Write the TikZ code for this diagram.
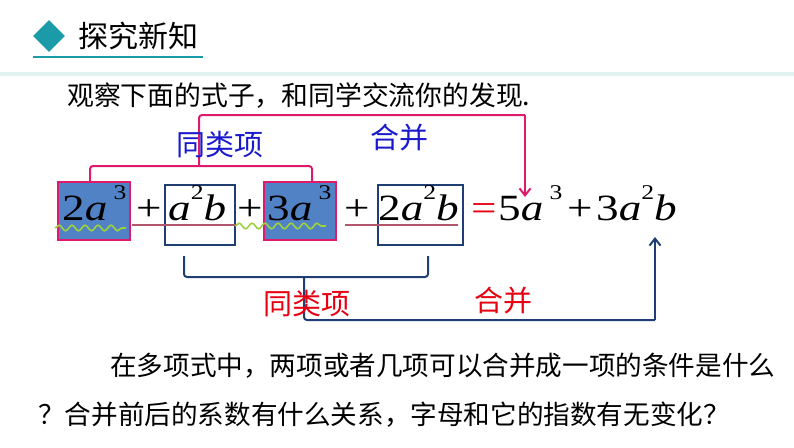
\documentclass[tikz,border=0pt]{standalone}
\usepackage{fontspec}
\setmainfont{Liberation Serif}
\newfontfamily\cjk{Noto Sans CJK SC}
\newfontfamily\eqf[FakeStretch=1.22]{Liberation Serif}
\usetikzlibrary{shapes.geometric,arrows.meta,decorations.pathmorphing}
\definecolor{teal1}{HTML}{1A9BA7}
\definecolor{band}{HTML}{E2F3EF}
\definecolor{pinkc}{HTML}{DE1A6C}
\definecolor{navy}{HTML}{1F3F74}
\definecolor{boxfill}{HTML}{5282C6}
\definecolor{bluet}{HTML}{1A1ACC}
\definecolor{redt}{HTML}{E60012}
\definecolor{ulc}{HTML}{B2566B}
\definecolor{wavec}{HTML}{9CD23C}
\newcommand\supr[1]{\raisebox{21pt}{\fontsize{21}{21}\selectfont #1}}
\newcommand\ita[1]{\textit{#1}}
\tikzset{
  eq/.style={inner sep=0pt, anchor=base west, font=\eqf\fontsize{37}{37}\selectfont},
  termbox/.style={draw, line width=2pt, rectangle, inner sep=0pt},
  pinkbox/.style={termbox, draw=pinkc, fill=boxfill, minimum width=72pt, minimum height=58pt},
  navybox/.style={termbox, draw=navy, minimum height=60pt},
  lbl/.style={inner sep=0pt, font=\cjk\fontsize{29}{29}\selectfont},
  body/.style={inner sep=0pt, anchor=west, font=\cjk\fontsize{26.6}{26.6}\selectfont},
  pinkline/.style={draw=pinkc, line width=2pt, rounded corners=3pt},
  navyline/.style={draw=navy, line width=2pt, rounded corners=3pt},
  ul/.style={draw=ulc, line width=1.5pt},
  wave/.style={draw=wavec, line width=1.6pt, decorate, decoration={snake, segment length=13pt, amplitude=2.8pt}},
}
\begin{document}
\begin{tikzpicture}[x=1pt,y=-1pt]
\useasboundingbox (0,0) rectangle (794,447);
% header
\fill[band] (0,72) rectangle (794,76);
\node[diamond, fill=teal1, minimum width=32pt, minimum height=32pt, inner sep=0pt] (dia) at (49,36) {};
\node[inner sep=0pt, anchor=west, font=\cjk\fontsize{30}{30}\selectfont] (title) at (78,36) {探究新知};
\coordinate (hl) at (33,57);
\coordinate (hr) at (203,57);
\draw[teal1, line width=2.5pt] (hl) -- (hr);
% first line of text
\node[body, font=\cjk\fontsize{26.8}{26.8}\selectfont] (intro) at (67,96) {观察下面的式子，和同学交流你的发现.};
% boxes
\node[pinkbox] (b1) at (94,211) {};
\node[navybox, minimum width=70pt] (b2) at (200,215) {};
\node[pinkbox] (b3) at (300,211) {};
\node[navybox, minimum width=85pt] (b4) at (420.5,215) {};
% equation
\node[eq] (t1) at (62,220) {2\ita{a}\,\supr{3}};
\node[eq] (p1) at (136,220) {+};
\node[eq] (t2) at (168,220) {\ita{a}\supr{2}\ita{b}};
\node[eq] (p2) at (237,220) {+};
\node[eq] (t3) at (267,220) {3\ita{a}\,\supr{3}};
\node[eq] (p3) at (344,220) {+};
\node[eq] (t4) at (378,220) {2\ita{a}\supr{2}\ita{b}};
\node[eq, text=redt] (eqs) at (471,220) {=};
\node[eq] (r1) at (498,220) {5\ita{a}\,\supr{3}};
\node[eq] (p4) at (567,220) {+};
\node[eq] (r2) at (596,220) {3\ita{a}\supr{2}\ita{b}};
% underlines and waves
\coordinate (u1a) at (132,225); \coordinate (u1b) at (235,225);
\coordinate (u2a) at (345,225); \coordinate (u2b) at (458,225);
\draw[ul] (u1a) -- (u1b);
\draw[ul] (u2a) -- (u2b);
\coordinate (w1a) at (55,228); \coordinate (w1b) at (126,228);
\coordinate (w2a) at (235,226); \coordinate (w2b) at (326,226);
\draw[wave] (w1a) -- (w1b);
\draw[wave] (w2a) -- (w2b);
% upper pink bracket and arrow
\coordinate (pl) at (90,182);
\coordinate (pr) at (312,182);
\coordinate (ps) at (199,166);
\coordinate (pt) at (525,115);
\coordinate (parr) at (525,197);
\path[pinkline] (pl) -- (90,166) -- (312,166) -- (pr);
\path[pinkline] (ps) -- (199,115) -- (pt);
\draw[pinkc, line width=2pt, -{Straight Barb[length=7pt,width=11pt,line width=2pt]}] (pt) -- (parr);
\node[lbl, text=bluet] (lb1) at (220,145) {同类项};
\node[lbl, text=bluet] (lb2) at (399,138) {合并};
% lower navy bracket and arrow
\coordinate (nl) at (184,256);
\coordinate (nr) at (428,256);
\coordinate (ns) at (304,277);
\coordinate (nc) at (655,320);
\coordinate (narr) at (655,237);
\path[navyline] (nl) -- (184,277) -- (428,277) -- (nr);
\path[navyline] (ns) -- (304,320) -- (nc);
\draw[navy, line width=2pt, -{Straight Barb[length=7pt,width=11pt,line width=2pt]}] (nc) -- (narr);
\node[lbl, text=redt] (lr1) at (307,304) {同类项};
\node[lbl, text=redt] (lr2) at (503,301) {合并};
% question
\node[body] (q1) at (110,366) {在多项式中，两项或者几项可以合并成一项的条件是什么};
\node[body] (q2) at (38,415) {？合并前后的系数有什么关系，字母和它的指数有无变化？};
\end{tikzpicture}
\end{document}
